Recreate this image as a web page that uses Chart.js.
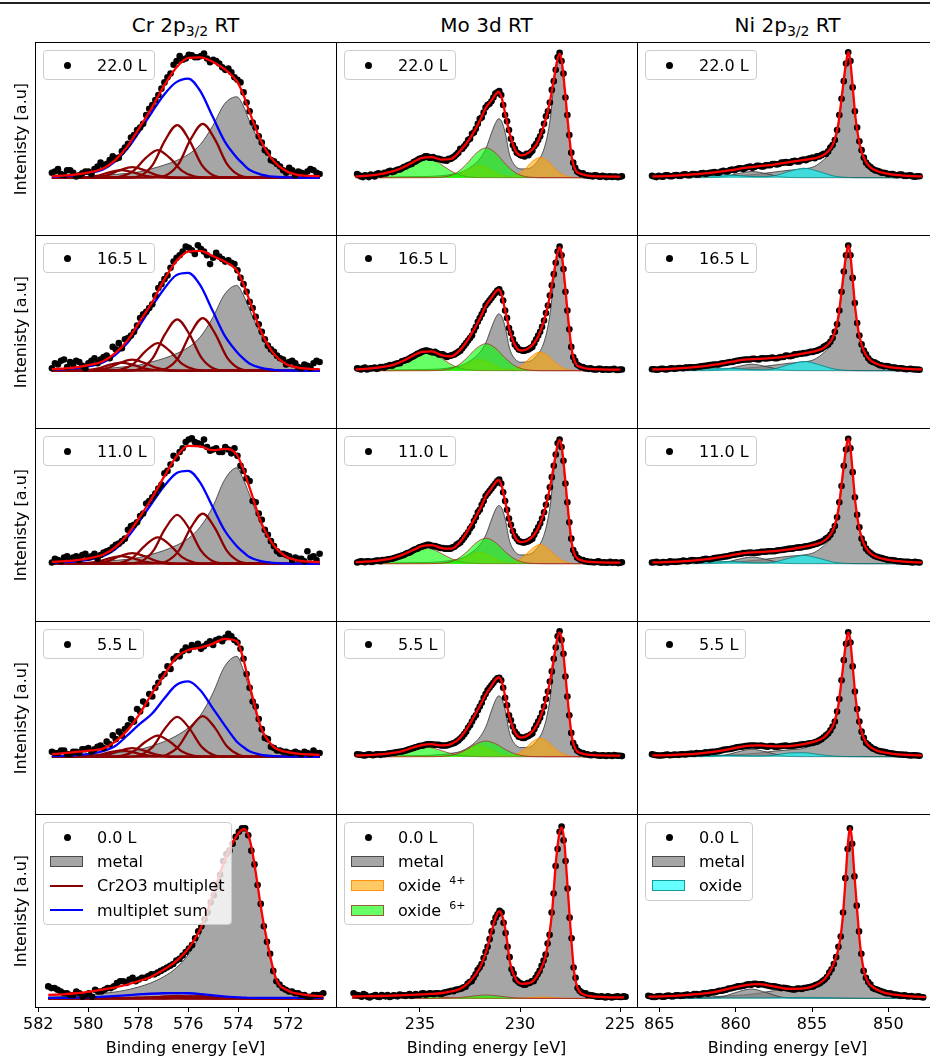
<!doctype html>
<html lang="en">
<head>
<meta charset="utf-8">
<title>XPS RT oxidation: Cr 2p3/2, Mo 3d, Ni 2p3/2</title>
<style>
  * { margin: 0; padding: 0; }
  body { width: 930px; height: 1058px; overflow: hidden; background: white; position: relative; font-family: 'DejaVu Sans', sans-serif; color: black; }
  .topline { position: absolute; left: 0; top: 2px; width: 930px; height: 2px; background: #222; }
  .coltitle { position: absolute; top: 13px; width: 301px; font-size: 20px; line-height: 24px; text-align: center; white-space: nowrap; }
  .coltitle sub { font-size: 14px; vertical-align: -4px; line-height: 0; }
  canvas { position: absolute; }
  .frame { position: absolute; border: 1px solid black; box-sizing: border-box; pointer-events: none; }
  .ylab { position: absolute; left: 20px; font-size: 16px; white-space: nowrap; transform: translate(-50%, -50%) rotate(-90deg); }
  .leg { position: absolute; border: 1px solid #cccccc; border-radius: 4px; background: rgba(255,255,255,0.8); padding: 2px 7px 2px 0; font-size: 16px; }
  .leg .row { height: 24.3px; display: flex; align-items: center; white-space: nowrap; }
  .leg .hnd { width: 53px; height: 100%; position: relative; flex: none; }
  .leg .dot { position: absolute; left: 20px; top: 50%; width: 7px; height: 7px; margin-top: -3.5px; border-radius: 50%; background: black; }
  .leg .patch { position: absolute; left: 6px; top: 50%; width: 33px; height: 11px; margin-top: -5.5px; box-sizing: border-box; border: 1px solid; }
  .leg .ln { position: absolute; left: 6px; top: 50%; width: 33px; height: 2.4px; margin-top: -1.2px; }
  .leg sup { font-size: 11px; vertical-align: 7px; line-height: 0; margin-left: 3px; }
</style>
</head>
<body>
<div class="topline"></div>

<script src="https://cdn.jsdelivr.net/npm/chart.js"></script>
<script>
// ---- data: exposures (rows) ----
const doses = ['22.0 L', '16.5 L', '11.0 L', '5.5 L', '0.0 L'];

// ---- Cr 2p3/2 ----
const crTicks = [582, 580, 578, 576, 574, 572];
const crE = [581.6, 581.35, 581.1, 580.85, 580.6, 580.35, 580.1, 579.85, 579.6, 579.35,
  579.1, 578.85, 578.6, 578.35, 578.1, 577.85, 577.6, 577.35, 577.1, 576.85,
  576.6, 576.35, 576.1, 575.85, 575.6, 575.35, 575.1, 574.85, 574.6, 574.35,
  574.1, 573.85, 573.6, 573.35, 573.1, 572.85, 572.6, 572.35, 572.1, 571.85,
  571.6, 571.35, 571.1, 570.85, 570.6];
const crData = [
  [.04,.07,.02,.06,.01,.035,.05,.07,.12,.11, .17,.16,.24,.32,.38,.43,.55,.62,.71,.80, .90,.97,.95,.975,.96,.99,.92,.93,.88,.87, .80,.76,.60,.44,.33,.22,.14,.11,.06,.08, .02,.04,.05,.06,.03],
  [.02,.05,.09,.07,.08,.04,.06,.1,.09,.12, .19,.22,.25,.28,.36,.45,.50,.60,.69,.76, .87,.92,.99,.96,1.0,.95,.85,.94,.89,.88, .85,.74,.63,.50,.37,.25,.17,.12,.09,.07, .06,.02,.04,.06,.07],
  [.01,.03,.05,.04,.06,.07,.05,.08,.07,.1, .13,.16,.2,.3,.33,.4,.5,.56,.63,.74, .86,.89,.97,1.0,.96,.99,.9,.92,.89,.91, .92,.78,.68,.5,.4,.27,.18,.1,.08,.06, .05,.04,.1,.06,.08],
  [.04,.03,.05,.02,.04,.06,.07,.06,.09,.12, .17,.2,.22,.3,.38,.44,.5,.55,.64,.72, .78,.8,.87,.89,.9,.88,.92,.93,.92,.98, .93,.86,.66,.44,.3,.15,.08,.05,.04,.03, .04,.02,.03,.05,.03],
  [.07,.06,.04,.03,.02,.03,.02,.01,.04,.05, .06,.09,.1,.11,.1,.12,.13,.14,.16,.18, .2,.23,.27,.31,.39,.46,.56,.65,.8,.86, .94,.99,.95,.78,.55,.33,.16,.08,.05,.04, .03,.02,.01,.02,.03]
];
// measured points lying between the ones above
const crE2 = [581.475, 581.225, 580.975, 580.725, 580.475, 580.225, 579.975, 579.725, 579.475, 579.225,
  578.975, 578.725, 578.475, 578.225, 577.975, 577.725, 577.475, 577.225, 576.975, 576.725,
  576.475, 576.225, 575.975, 575.725, 575.475, 575.225, 574.975, 574.725, 574.475, 574.225,
  573.975, 573.725, 573.475, 573.225, 572.975, 572.725, 572.475, 572.225, 571.975, 571.725,
  571.475, 571.225, 570.975, 570.725];
const crData2 = [
  [.05,.03,.06,.04,.02,.05,.03,.09,.1,.14, .15,.21,.27,.34,.4,.5,.58,.66,.76,.83, .93,.94,.98,.96,.97,.95,.94,.91,.86,.84, .78,.68,.53,.4,.28,.2,.13,.09,.04,.06, .05,.03,.07,.04],
  [.06,.08,.03,.05,.07,.02,.08,.06,.11,.1, .17,.18,.26,.31,.42,.47,.53,.66,.73,.82, .9,.95,.98,.93,.97,.92,.9,.91,.87,.86, .8,.69,.55,.43,.31,.2,.15,.1,.05,.08, .03,.05,.02,.08],
  [.04,.02,.06,.05,.03,.08,.06,.04,.09,.11, .15,.18,.27,.31,.38,.48,.53,.6,.72,.79, .84,.92,.99,.97,.95,.93,.91,.89,.93,.88, .86,.74,.66,.49,.35,.23,.14,.08,.07,.03, .04,.02,.05,.03],
  [.03,.05,.02,.04,.03,.06,.04,.08,.07,.1, .14,.17,.25,.28,.36,.42,.48,.59,.66,.7, .8,.84,.85,.88,.86,.9,.89,.94,.95,.96, .91,.78,.55,.4,.22,.14,.07,.05,.04,.03, .03,.04,.02,.03],
  [.06,.05,.03,.02,.04,.01,.03,.05,.04,.06, .07,.1,.09,.12,.11,.12,.14,.15,.17,.19, .22,.25,.29,.35,.42,.5,.6,.72,.84,.9, .97,.99,.86,.66,.42,.26,.1,.06,.04,.03, .02,.01,.02,.02]
];
const crFitE = [581.6, 581, 580.5, 580, 579.5, 579, 578.5, 578, 577.5, 577, 576.5, 576, 575.5, 575, 574.5, 574, 573.75, 573.5, 573, 572.5, 572, 571.5, 571, 570.6];
const crFit = [
  [.012,.018,.028,.045,.073,.14,.25,.40,.555,.73,.875,.955,.96,.925,.865,.77,.67,.535,.29,.135,.055,.023,.014,.012],
  [.012,.018,.03,.048,.075,.14,.24,.39,.54,.72,.87,.95,.955,.915,.87,.80,.70,.57,.31,.14,.055,.025,.015,.012],
  [.015,.02,.03,.047,.072,.13,.23,.37,.52,.69,.85,.94,.935,.905,.915,.87,.76,.62,.33,.15,.06,.027,.016,.013],
  [.02,.03,.04,.05,.065,.12,.21,.34,.5,.646,.79,.85,.87,.90,.94,.92,.79,.59,.23,.08,.04,.025,.018,.015],
  [.02,.024,.03,.038,.05,.062,.078,.1,.125,.165,.215,.29,.41,.61,.82,.96,.986,.9,.45,.12,.045,.025,.016,.013]
];
const crSum = [
  [.008,.013,.022,.038,.065,.13,.23,.37,.52,.66,.76,.79,.69,.49,.29,.16,.11,.065,.025,.008,.003,.001,0,0],
  [.008,.013,.022,.038,.065,.125,.22,.36,.51,.65,.76,.78,.68,.48,.28,.15,.10,.06,.022,.007,.002,.001,0,0],
  [.008,.012,.02,.035,.06,.115,.21,.34,.48,.615,.72,.74,.645,.455,.265,.14,.095,.055,.02,.006,.002,.001,0,0],
  [.005,.008,.014,.025,.045,.085,.17,.26,.34,.46,.57,.6,.53,.39,.25,.12,.08,.045,.015,.005,.002,.001,0,0],
  [.003,.003,.004,.006,.009,.013,.018,.023,.027,.03,.031,.03,.025,.017,.01,.006,.004,.003,.003,.003,.003,.003,.003,.003]
];
const crMetal = [
  [.004,.006,.008,.011,.017,.026,.035,.047,.072,.1,.135,.185,.265,.41,.59,.645,.58,.46,.26,.12,.045,.015,.006,.004],
  [.004,.006,.008,.011,.016,.024,.034,.046,.07,.098,.135,.185,.27,.42,.61,.68,.61,.5,.28,.13,.05,.018,.007,.004],
  [.004,.006,.008,.012,.018,.026,.036,.05,.075,.105,.145,.2,.295,.45,.67,.765,.68,.56,.31,.145,.055,.02,.008,.004],
  [.005,.007,.009,.013,.02,.03,.042,.058,.085,.12,.165,.23,.33,.5,.72,.80,.70,.55,.215,.075,.03,.012,.006,.004],
  [.008,.011,.015,.02,.028,.036,.048,.066,.09,.125,.175,.255,.38,.59,.805,.95,.975,.89,.44,.11,.036,.015,.007,.004]
];
// Cr2O3 multiplet lines, five per panel
const crMultE = [
  [581.6, 577.4, 576.9, 576.4, 575.9, 575.4, 574.9, 574.4, 573.9, 573.4, 570.6],
  [581.6, 578.45, 577.95, 577.45, 576.95, 576.45, 575.95, 575.45, 574.95, 574.45, 570.6],
  [581.6, 579.25, 578.75, 578.25, 577.75, 577.25, 576.75, 576.25, 575.75, 575.25, 570.6],
  [581.6, 580.3, 579.8, 579.3, 578.8, 578.3, 577.8, 577.3, 576.8, 576.3, 570.6],
  [581.6, 580.75, 580.25, 579.75, 579.25, 578.75, 578.25, 577.75, 577.25, 576.75, 570.6]
];
const crMult = [
  [[0,.002,.019,.108,.305,.43,.305,.108,.019,.002,0], [0,.002,.018,.105,.298,.42,.298,.105,.018,.002,0], [0,.001,.01,.055,.156,.22,.156,.055,.01,.001,0], [0,0,.004,.021,.06,.085,.06,.021,.004,0,0], [0,0,.003,.015,.043,.06,.043,.015,.003,0,0]],
  [[0,.002,.018,.105,.298,.42,.298,.105,.018,.002,0], [0,.002,.018,.103,.291,.41,.291,.103,.018,.002,0], [0,.001,.01,.055,.156,.22,.156,.055,.01,.001,0], [0,0,.004,.022,.062,.088,.062,.022,.004,0,0], [0,0,.003,.016,.046,.065,.046,.016,.003,0,0]],
  [[0,.002,.018,.1,.284,.4,.284,.1,.018,.002,0], [0,.002,.017,.098,.277,.39,.277,.098,.017,.002,0], [0,.001,.009,.053,.149,.21,.149,.053,.009,.001,0], [0,0,.004,.021,.06,.085,.06,.021,.004,0,0], [0,0,.003,.015,.043,.06,.043,.015,.003,0,0]],
  [[0,.001,.014,.081,.23,.324,.23,.081,.014,.001,0], [0,.001,.014,.08,.226,.318,.226,.08,.014,.001,0], [0,.001,.007,.042,.119,.168,.119,.042,.007,.001,0], [0,0,.003,.017,.048,.068,.048,.017,.003,0,0], [0,0,.002,.012,.034,.048,.034,.012,.002,0,0]],
  [[0,0,.001,.004,.011,.015,.011,.004,.001,0,0], [0,0,.001,.004,.011,.015,.011,.004,.001,0,0], [0,0,0,.002,.006,.008,.006,.002,0,0,0], [0,0,0,.001,.002,.003,.002,.001,0,0,0], [0,0,0,0,.001,.002,.001,0,0,0,0]]
];

// ---- Mo 3d ----
const moTicks = [235, 230, 225];
const moE = [238.32, 238.12, 237.92, 237.72, 237.52, 237.32, 237.12, 236.92, 236.72, 236.52,
  236.32, 236.12, 235.92, 235.72, 235.52, 235.32, 235.12, 234.92, 234.72, 234.52,
  234.32, 234.12, 233.92, 233.72, 233.52, 233.32, 233.12, 232.92, 232.72, 232.52,
  232.32, 232.12, 231.92, 231.72, 231.52, 231.32, 231.12, 230.92, 230.72, 230.52,
  230.32, 230.12, 229.92, 229.72, 229.52, 229.32, 229.12, 228.92, 228.72, 228.52,
  228.32, 228.12, 227.92, 227.72, 227.52, 227.32, 227.12, 226.92, 226.72, 226.52,
  226.32, 226.12, 225.92, 225.72, 225.52, 225.32, 225.12, 224.92, 224.72];
const moData = [
  [.03,.01,.02,.005,.02,.03,.025,.04,.05,.045, .06,.065,.085,.1,.11,.13,.15,.16,.17,.16, .155,.15,.14,.135,.15,.17,.2,.23,.27,.31, .36,.43,.48,.56,.59,.64,.68,.66,.5,.38, .26,.2,.18,.17,.18,.215,.27,.33,.43,.53, .7,.86,.995,.83,.5,.2,.08,.04,.035,.02, .015,.02,.01,.015,.005,.012,.01,.004,.012],
  [.02,.01,.025,.015,.02,.015,.03,.025,.04,.04, .055,.06,.08,.09,.11,.125,.14,.155,.16,.15, .15,.13,.13,.11,.12,.13,.15,.18,.22,.26, .32,.39,.45,.52,.56,.6,.64,.62,.48,.34, .25,.19,.165,.16,.17,.19,.25,.31,.4,.52, .68,.86,.99,.81,.48,.19,.08,.04,.03,.018, .02,.01,.015,.008,.012,.01,.015,.006,.01],
  [.01,.02,.012,.02,.015,.025,.02,.03,.035,.04, .05,.06,.07,.085,.1,.115,.13,.14,.15,.145, .14,.13,.125,.12,.12,.135,.16,.19,.23,.28, .34,.41,.47,.54,.58,.62,.66,.64,.5,.36, .26,.2,.175,.17,.18,.2,.26,.32,.41,.53, .69,.87,.99,.82,.49,.2,.08,.04,.03,.02, .015,.012,.02,.01,.008,.015,.01,.005,.012],
  [.02,.015,.01,.02,.012,.02,.015,.02,.025,.03, .035,.04,.045,.055,.065,.075,.085,.09,.1,.1, .095,.095,.09,.09,.1,.11,.13,.16,.2,.25, .31,.37,.43,.5,.55,.59,.625,.61,.47,.33, .24,.18,.155,.15,.165,.185,.25,.31,.4,.52, .68,.87,1.0,.82,.48,.19,.08,.04,.03,.02, .012,.018,.01,.012,.006,.01,.014,.008,.005],
  [.03,.02,.01,.02,.005,.015,.01,.02,.012,.008, .018,.012,.02,.015,.025,.018,.02,.028,.022,.03, .025,.03,.026,.035,.04,.042,.052,.058,.068,.095, .12,.165,.2,.27,.345,.44,.49,.5,.38,.24, .145,.1,.085,.08,.09,.1,.14,.19,.255,.37, .61,.87,1.0,.8,.47,.18,.06,.035,.03,.02, .015,.01,.012,.005,.01,.008,.012,.008,.01]
];
const moE2 = [238.22, 238.02, 237.82, 237.62, 237.42, 237.22, 237.02, 236.82, 236.62, 236.42,
  236.22, 236.02, 235.82, 235.62, 235.42, 235.22, 235.02, 234.82, 234.62, 234.42,
  234.22, 234.02, 233.82, 233.62, 233.42, 233.22, 233.02, 232.82, 232.62, 232.42,
  232.22, 232.02, 231.82, 231.62, 231.42, 231.22, 231.02, 230.82, 230.62, 230.42,
  230.22, 230.02, 229.82, 229.62, 229.42, 229.22, 229.02, 228.82, 228.62, 228.42,
  228.22, 228.02, 227.82, 227.62, 227.42, 227.22, 227.02, 226.82, 226.62, 226.42,
  226.22, 226.02, 225.82, 225.62, 225.42, 225.22, 225.02, 224.82];
const moData2 = [
  [.02,.005,.015,.025,.01,.035,.03,.035,.055,.05, .065,.075,.09,.105,.125,.14,.155,.17,.16,.165, .15,.145,.14,.15,.16,.185,.23,.25,.3,.35, .39,.47,.52,.58,.61,.67,.69,.58,.45,.31, .23,.19,.175,.19,.2,.25,.3,.37,.49,.6, .77,.96,.93,.64,.34,.12,.05,.03,.02,.015, .01,.018,.008,.012,.01,.006,.01,.008],
  [.015,.02,.01,.02,.025,.02,.03,.035,.045,.05, .06,.075,.085,.1,.115,.135,.15,.16,.155,.145, .14,.13,.12,.115,.125,.14,.16,.2,.24,.28, .35,.42,.48,.54,.58,.62,.65,.56,.42,.3, .21,.17,.16,.165,.18,.22,.28,.35,.46,.6, .77,.95,.92,.63,.33,.11,.05,.03,.02,.015, .012,.01,.015,.01,.008,.012,.007,.01],
  [.015,.018,.02,.015,.022,.025,.03,.032,.038,.045, .055,.065,.08,.09,.11,.12,.135,.145,.15,.14, .135,.125,.12,.12,.13,.15,.17,.21,.25,.3, .37,.43,.5,.56,.6,.64,.67,.57,.43,.31, .22,.18,.17,.175,.19,.23,.29,.36,.47,.61, .78,.96,.93,.64,.33,.11,.05,.03,.02,.014, .012,.015,.01,.012,.01,.008,.012,.008],
  [.018,.012,.015,.018,.015,.02,.02,.022,.028,.032, .038,.042,.05,.06,.07,.08,.088,.095,.1,.098, .095,.09,.09,.095,.105,.12,.145,.18,.23,.28, .33,.4,.47,.53,.57,.61,.63,.55,.41,.29, .2,.16,.15,.16,.175,.22,.28,.35,.46,.6, .78,.96,.93,.64,.33,.11,.05,.03,.02,.015, .014,.012,.008,.01,.012,.006,.01,.008],
  [.02,.015,.025,.01,.012,.02,.008,.015,.02,.012, .015,.022,.018,.02,.015,.025,.02,.03,.025,.028, .03,.028,.032,.038,.045,.05,.055,.065,.085,.1, .14,.18,.235,.3,.39,.47,.51,.44,.3,.17, .11,.09,.08,.09,.1,.12,.16,.22,.32,.5, .77,.97,.92,.64,.35,.12,.045,.03,.02,.018, .012,.01,.008,.012,.006,.01,.008,.012]
];
const moFitE = [238.4, 237.5, 237, 236.5, 236, 235.5, 235, 234.5, 234, 233.5,
  233, 232.5, 232, 231.7, 231.4, 231.2, 231.05, 230.9, 230.7, 230.5,
  230.2, 229.9, 229.5, 229.1, 228.7, 228.4, 228.2, 228.05, 227.92, 227.8,
  227.65, 227.5, 227.3, 227.1, 226.8, 226.4, 225.8, 224.8];
const moFit = [
  [.01,.02,.033,.05,.08,.12,.158,.165,.145,.15, .22,.32,.46,.56,.62,.665,.687,.64,.50,.36, .22,.178,.2,.27,.43,.62,.8,.93,.99,.92, .70,.45,.17,.06,.03,.015,.01,.008],
  [.01,.02,.03,.045,.075,.115,.15,.155,.125,.115, .17,.28,.42,.52,.585,.63,.649,.605,.47,.33, .2,.16,.18,.25,.41,.61,.79,.925,.985,.915, .70,.45,.17,.06,.028,.014,.01,.008],
  [.012,.02,.03,.045,.07,.105,.14,.148,.125,.12, .18,.3,.44,.54,.605,.65,.669,.625,.485,.345, .21,.172,.19,.26,.42,.62,.8,.93,.988,.92, .70,.45,.17,.06,.028,.014,.01,.008],
  [.01,.015,.02,.03,.045,.07,.092,.1,.09,.1, .155,.27,.41,.5,.57,.615,.632,.6,.47,.32, .19,.153,.175,.25,.41,.61,.8,.935,.992,.925, .70,.45,.17,.06,.028,.014,.01,.008],
  [.012,.013,.014,.016,.018,.02,.023,.026,.03,.04, .055,.1,.18,.27,.4,.475,.506,.485,.38,.21, .11,.085,.09,.14,.26,.5,.8,.95,.996,.93, .70,.45,.16,.055,.022,.012,.008,.006]
];
const moMetal = [
  [.004,.005,.005,.006,.007,.008,.009,.011,.016,.026, .042,.083,.155,.235,.365,.44,.47,.45,.35,.19, .095,.07,.074,.122,.24,.47,.76,.9,.95,.885, .66,.42,.15,.05,.012,.004,.001,0],
  [.004,.005,.005,.006,.007,.008,.009,.011,.015,.025, .04,.08,.15,.227,.352,.425,.453,.435,.338,.183, .092,.068,.073,.12,.238,.465,.755,.895,.945,.88, .66,.42,.15,.05,.012,.004,.001,0],
  [.004,.005,.005,.006,.007,.008,.009,.011,.016,.026, .041,.082,.153,.232,.36,.435,.464,.445,.346,.187, .094,.07,.074,.121,.24,.468,.758,.898,.948,.883, .66,.42,.15,.05,.012,.004,.001,0],
  [.004,.005,.005,.006,.007,.008,.009,.012,.017,.027, .043,.085,.16,.243,.376,.455,.485,.465,.362,.195, .098,.073,.076,.125,.244,.476,.765,.91,.955,.892, .665,.425,.15,.05,.012,.004,.001,0],
  [.005,.005,.006,.007,.008,.009,.01,.012,.018,.028, .045,.088,.165,.25,.385,.465,.497,.477,.372,.2, .1,.075,.078,.128,.25,.49,.79,.94,.986,.92, .69,.44,.15,.045,.013,.004,.001,0]
];
const moOxE = [238.4, 233.6, 233.1, 232.6, 232.05, 231.5, 231.0, 230.5, 230.1, 229.72, 229.32, 228.92, 228.52, 228.12, 227.72, 227.32, 226.92, 226.5, 224.8];
const moOx4 = [
  [0,.006,.027,.07,.1,.07,.027,.011,.024,.066,.13,.162,.13,.066,.022,.005,.001,0,0],
  [0,.005,.024,.063,.09,.063,.024,.01,.022,.061,.119,.149,.119,.061,.02,.004,.001,0,0],
  [0,.005,.025,.064,.092,.064,.025,.01,.023,.063,.122,.153,.122,.063,.021,.004,.001,0,0],
  [0,.005,.024,.063,.09,.063,.024,.01,.022,.061,.118,.148,.118,.061,.02,.004,.001,0,0],
  [0,0,.001,.004,.005,.004,.001,0,.001,.003,.006,.008,.006,.003,.001,0,0,0,0]
];
const moG1E = [238.4, 234.7, 234.2, 233.7, 233.2, 232.7, 232.2, 231.7, 231.2, 230.7, 230.2, 229.7, 229.2, 228.7, 224.8];
const moOx6a = [
  [0,0,.002,.01,.041,.109,.196,.238,.196,.109,.041,.01,.002,0,0],
  [0,0,.002,.01,.037,.099,.178,.216,.178,.099,.037,.01,.002,0,0],
  [0,0,.002,.009,.035,.093,.168,.204,.168,.093,.035,.009,.002,0,0],
  [0,0,.001,.006,.022,.057,.103,.125,.103,.057,.022,.006,.001,0,0],
  [0,0,0,.001,.003,.009,.016,.02,.016,.009,.003,.001,0,0,0]
];
const moG2E = [238.4, 237.85, 237.35, 236.85, 236.35, 235.85, 235.35, 234.85, 234.35, 233.85, 233.35, 232.85, 232.35, 231.85, 224.8];
const moOx6b = [
  [0,.001,.003,.014,.041,.089,.141,.165,.141,.089,.041,.014,.003,.001,0],
  [0,.001,.003,.013,.039,.084,.133,.155,.133,.084,.039,.013,.003,.001,0],
  [0,.001,.003,.011,.032,.069,.11,.128,.11,.069,.032,.011,.003,.001,0],
  [0,0,.002,.007,.019,.042,.066,.077,.066,.042,.019,.007,.002,0,0],
  [0,0,0,.001,.003,.007,.011,.013,.011,.007,.003,.001,0,0,0]
];

// ---- Ni 2p3/2 ----
const niTicks = [865, 860, 855, 850];
const niE = [865.72, 865.42, 865.12, 864.82, 864.52, 864.22, 863.92, 863.62, 863.32, 863.02,
  862.72, 862.42, 862.12, 861.82, 861.52, 861.22, 860.92, 860.62, 860.32, 860.02,
  859.72, 859.42, 859.12, 858.82, 858.52, 858.22, 857.92, 857.62, 857.32, 857.02,
  856.72, 856.42, 856.12, 855.82, 855.52, 855.22, 854.92, 854.62, 854.32, 854.02,
  853.72, 853.42, 853.12, 852.82, 852.52, 852.22, 851.92, 851.62, 851.32, 851.02,
  850.72, 850.42, 850.12, 849.82, 849.52, 849.22, 848.92, 848.62, 848.32, 848.02, 847.72];
const niData = [
  [.015,.005,.01,.02,.012,.02,.015,.025,.02,.03, .025,.035,.03,.04,.045,.04,.055,.05,.065,.07, .075,.08,.09,.085,.095,.09,.1,.11,.105,.12, .125,.12,.135,.13,.145,.15,.16,.17,.18,.19, .24,.3,.5,.77,1.0,.72,.4,.22,.12,.085, .06,.05,.04,.028,.03,.02,.025,.015,.02,.008,.012],
  [.012,.008,.015,.01,.018,.015,.022,.02,.025,.028, .03,.035,.04,.045,.05,.05,.06,.065,.07,.08, .085,.09,.09,.095,.09,.1,.1,.105,.1,.11, .12,.115,.13,.135,.14,.145,.15,.16,.175,.2, .23,.31,.48,.79,.998,.74,.38,.21,.13,.08, .065,.045,.035,.035,.025,.018,.02,.012,.015,.01,.008],
  [.01,.015,.008,.012,.02,.015,.018,.025,.02,.03, .025,.03,.04,.035,.045,.05,.055,.06,.07,.075, .08,.085,.09,.085,.09,.095,.1,.1,.105,.11, .115,.12,.125,.13,.135,.14,.15,.16,.175,.2, .23,.3,.49,.78,.996,.73,.39,.2,.12,.085, .06,.05,.04,.03,.028,.02,.018,.015,.012,.015,.01],
  [.02,.012,.01,.015,.012,.018,.015,.02,.022,.025, .03,.028,.035,.038,.04,.045,.055,.06,.065,.075, .08,.085,.09,.09,.088,.085,.08,.085,.08,.085, .09,.085,.09,.095,.1,.105,.11,.12,.14,.17, .21,.28,.46,.77,.992,.72,.38,.2,.11,.08, .06,.045,.04,.03,.025,.02,.018,.015,.01,.012,.008],
  [.015,.008,.012,.01,.015,.012,.018,.015,.02,.018, .025,.022,.03,.028,.035,.04,.045,.05,.058,.065, .07,.075,.082,.085,.08,.082,.075,.07,.068,.06, .06,.055,.052,.058,.06,.065,.07,.082,.1,.125, .17,.24,.36,.7,.99,.71,.39,.16,.095,.06, .05,.04,.03,.028,.022,.015,.018,.012,.01,.012,.006]
];
const niE2 = [865.57, 865.27, 864.97, 864.67, 864.37, 864.07, 863.77, 863.47, 863.17, 862.87,
  862.57, 862.27, 861.97, 861.67, 861.37, 861.07, 860.77, 860.47, 860.17, 859.87,
  859.57, 859.27, 858.97, 858.67, 858.37, 858.07, 857.77, 857.47, 857.17, 856.87,
  856.57, 856.27, 855.97, 855.67, 855.37, 855.07, 854.77, 854.47, 854.17, 853.87,
  853.57, 853.27, 852.97, 852.67, 852.37, 852.07, 851.77, 851.47, 851.17, 850.87,
  850.57, 850.27, 849.97, 849.67, 849.37, 849.07, 848.77, 848.47, 848.17, 847.87];
const niData2 = [
  [.01,.015,.008,.02,.012,.022,.015,.028,.02,.03, .025,.038,.035,.042,.04,.05,.05,.062,.06,.075, .07,.085,.08,.095,.09,.1,.1,.11,.11,.12, .12,.13,.13,.14,.14,.155,.155,.17,.19,.21, .26,.38,.63,.91,.93,.53,.29,.16,.1,.07, .055,.04,.035,.03,.022,.025,.015,.018,.01,.012],
  [.012,.01,.015,.012,.02,.018,.022,.025,.028,.025, .032,.038,.042,.048,.05,.058,.062,.07,.075,.082, .088,.09,.095,.092,.1,.098,.102,.1,.105,.11, .118,.12,.13,.135,.14,.15,.155,.168,.19,.21, .26,.37,.63,.92,.92,.54,.28,.16,.1,.07, .055,.042,.038,.028,.025,.02,.015,.014,.012,.01],
  [.012,.01,.014,.01,.016,.015,.02,.022,.025,.028, .028,.035,.038,.04,.048,.052,.058,.065,.072,.078, .085,.088,.088,.09,.095,.095,.1,.1,.108,.112, .118,.12,.128,.13,.138,.145,.155,.168,.185,.21, .26,.37,.62,.91,.92,.53,.29,.16,.1,.072, .055,.045,.035,.03,.025,.02,.016,.015,.01,.012],
  [.015,.01,.012,.018,.014,.016,.02,.018,.024,.022, .028,.03,.032,.04,.042,.05,.058,.062,.07,.078, .082,.088,.09,.088,.09,.082,.085,.08,.082,.088, .085,.088,.092,.098,.1,.108,.115,.13,.155,.185, .24,.36,.61,.9,.91,.52,.28,.15,.095,.065, .05,.042,.035,.028,.022,.018,.016,.012,.012,.01],
  [.012,.008,.014,.01,.016,.012,.018,.016,.022,.02, .026,.024,.03,.034,.036,.045,.048,.058,.062,.07, .072,.08,.08,.085,.082,.078,.072,.07,.065,.062, .058,.052,.058,.055,.062,.068,.078,.09,.11,.15, .2,.3,.5,.87,.9,.54,.26,.12,.08,.055, .045,.035,.03,.022,.02,.016,.012,.014,.01,.008]
];
const niFitE = [865.7, 864.5, 863.5, 862.5, 861.5, 860.5, 859.5, 858.5, 857.5, 856.5,
  855.5, 854.8, 854.2, 853.8, 853.5, 853.2, 853.0, 852.8, 852.65, 852.52,
  852.4, 852.25, 852.05, 851.85, 851.6, 851.3, 851.0, 850.5, 850, 849.5, 848.5, 847.55];
const niFit = [
  [.01,.015,.022,.03,.042,.058,.078,.092,.105,.125, .142,.155,.18,.22,.28,.42,.6,.8,.93,1.0, .95,.77,.5,.33,.2,.12,.08,.05,.035,.025, .015,.01],
  [.01,.015,.022,.032,.048,.068,.088,.095,.102,.118, .138,.155,.18,.22,.28,.42,.6,.8,.93,.998, .95,.77,.5,.33,.2,.12,.08,.05,.035,.025, .015,.01],
  [.01,.014,.02,.03,.045,.065,.085,.092,.1,.115, .135,.152,.178,.22,.28,.42,.6,.8,.93,.996, .95,.77,.5,.33,.2,.12,.08,.05,.035,.025, .015,.01],
  [.01,.013,.018,.027,.04,.06,.085,.09,.083,.085, .1,.12,.15,.2,.26,.4,.58,.79,.925,.992, .945,.765,.5,.32,.19,.11,.075,.045,.032,.022, .014,.01],
  [.01,.013,.018,.025,.035,.055,.075,.083,.07,.055, .058,.075,.11,.16,.22,.32,.46,.7,.9,.992, .94,.75,.52,.31,.16,.09,.065,.04,.028,.02, .012,.008]
];
const niMetal = [
  [.002,.003,.005,.007,.01,.014,.02,.03,.045,.06, .07,.09,.14,.19,.26,.39,.57,.77,.91,.98, .935,.755,.49,.32,.19,.11,.07,.04,.025,.016, .008,.004],
  [.002,.003,.005,.007,.01,.014,.02,.03,.045,.06, .07,.09,.14,.19,.26,.39,.57,.77,.91,.98, .935,.755,.49,.32,.19,.11,.07,.04,.025,.016, .008,.004],
  [.002,.003,.005,.007,.01,.014,.02,.03,.045,.06, .07,.09,.14,.19,.26,.39,.57,.77,.91,.98, .935,.755,.49,.32,.19,.11,.07,.04,.025,.016, .008,.004],
  [.002,.003,.005,.007,.01,.014,.02,.03,.045,.055, .068,.1,.14,.19,.25,.38,.56,.77,.905,.975, .93,.75,.49,.315,.185,.105,.068,.038,.024,.015, .008,.004],
  [.002,.003,.005,.007,.01,.014,.02,.03,.045,.05, .052,.068,.1,.15,.21,.305,.445,.69,.89,.985, .935,.745,.515,.305,.155,.085,.058,.033,.02,.013, .006,.003]
];
const niSatE = [865.7, 862, 861, 860, 859, 858, 857, 856, 847.55];
const niSat = [
  [0,.001,.007,.031,.05,.031,.007,.001,0],
  [0,.001,.007,.032,.052,.032,.007,.001,0],
  [0,.001,.007,.033,.054,.033,.007,.001,0],
  [0,.001,.008,.037,.06,.037,.008,.001,0],
  [0,.001,.007,.034,.055,.034,.007,.001,0]
];
const niOxE = [865.7, 863.5, 862.5, 861.5, 860.5, 859.5, 858.5, 857.5, 856.5, 855.5, 854.5, 853.5, 852.5, 851.5, 847.55];
const niOx = [
  [0,.005,.013,.021,.021,.013,.008,.016,.05,.076,.05,.014,.002,0,0],
  [0,.005,.012,.019,.019,.012,.007,.015,.049,.074,.049,.014,.002,0,0],
  [0,.004,.011,.017,.017,.011,.006,.013,.044,.066,.044,.012,.002,0,0],
  [0,.002,.006,.01,.01,.007,.006,.012,.03,.032,.018,.005,.001,0,0],
  [0,.001,.002,.003,.003,.003,.003,.004,.005,.006,.005,.003,.001,0,0]
];

// ---- layout ----
const colX = [35, 336, 637], colW = 301;
const rowY = [42, 235, 428, 621, 814], rowH = 193;
const xRange = [[570.09, 582.13], [224.15, 239.2], [846.75, 866.46]];
const colTicks = [crTicks, moTicks, niTicks];
const colTitles = ['Cr 2p<sub>3/2</sub> RT', 'Mo 3d RT', 'Ni 2p<sub>3/2</sub> RT'];

const RED = '#ff0000', BLUE = '#0000ff', MAROON = '#8b0000';
const METAL = ['rgba(128,128,128,0.7)', 'rgba(50,50,50,0.8)'];
const OX4 = ['rgba(255,165,0,0.6)', 'rgba(255,140,0,0.9)'];
const OX6 = ['rgba(0,255,0,0.6)', 'rgba(165,42,42,0.75)'];
const NIOX = ['rgba(0,255,255,0.6)', 'rgba(0,128,128,0.8)'];

Chart.defaults.font.family = "'DejaVu Sans', sans-serif";
Chart.defaults.color = 'black';

const pts = (xs, ys) => xs.map((x, i) => ({x: x, y: ys[i]}));
const line = (xs, ys, color, order) => ({data: pts(xs, ys), borderColor: color, borderWidth: 2.3, pointRadius: 0, fill: false, cubicInterpolationMode: 'monotone', order: order});
const area = (xs, ys, col, order) => ({data: pts(xs, ys), borderColor: col[1], borderWidth: 1, backgroundColor: col[0], pointRadius: 0, fill: 'origin', cubicInterpolationMode: 'monotone', order: order});
const dots = (xs, ys) => ({data: pts(xs, ys), showLine: false, pointRadius: 3.3, pointBackgroundColor: 'black', pointBorderColor: 'black', pointBorderWidth: 0, order: 1});

function panelSets(r, c) {
  if (c === 0) {
    const sets = [line(crFitE, crFit[r], RED, 0), dots(crE, crData[r]), dots(crE2, crData2[r]), line(crFitE, crSum[r], BLUE, 2)];
    for (let k = 0; k < 5; k++) sets.push(line(crMultE[k], crMult[r][k], MAROON, 3));
    sets.push(area(crFitE, crMetal[r], METAL, 6));
    return sets;
  }
  if (c === 1) {
    return [line(moFitE, moFit[r], RED, 0), dots(moE, moData[r]), dots(moE2, moData2[r]),
      area(moG1E, moOx6a[r], OX6, 4), area(moG2E, moOx6b[r], OX6, 4),
      area(moOxE, moOx4[r], OX4, 5), area(moFitE, moMetal[r], METAL, 6)];
  }
  return [line(niFitE, niFit[r], RED, 0), dots(niE, niData[r]), dots(niE2, niData2[r]),
    area(niOxE, niOx[r], NIOX, 4), area(niSatE, niSat[r], METAL, 5), area(niFitE, niMetal[r], METAL, 6)];
}

function makePanel(r, c) {
  const bottom = r === 4;
  const pad = bottom ? 20 : 0;
  const w = colW + 2 * pad, h = rowH + (bottom ? 51 : 0);
  const cv = document.createElement('canvas');
  cv.width = w; cv.height = h;
  cv.style.left = (colX[c] - pad) + 'px';
  cv.style.top = rowY[r] + 'px';
  cv.style.width = w + 'px';
  cv.style.height = h + 'px';
  document.body.appendChild(cv);
  new Chart(cv, {
    type: 'line',
    data: {datasets: panelSets(r, c)},
    options: {
      animation: false, responsive: false, devicePixelRatio: 1, events: [],
      layout: {padding: {left: pad, right: pad, top: 0, bottom: 0}},
      plugins: {legend: {display: false}, tooltip: {enabled: false}},
      scales: {
        x: {
          type: 'linear', reverse: true, min: xRange[c][0], max: xRange[c][1], display: bottom,
          afterFit: s => { s.height = 51; s.paddingLeft = 0; s.paddingRight = 0; },
          afterBuildTicks: s => { s.ticks = colTicks[c].map(v => ({value: v})); },
          grid: {drawOnChartArea: false, drawTicks: true, tickLength: 5, color: 'black', lineWidth: 1},
          border: {display: false},
          ticks: {color: 'black', font: {size: 16}, padding: 3.5, maxRotation: 0, autoSkip: false},
          title: {display: true, text: 'Binding energy [eV]', color: 'black', font: {size: 16}, padding: {top: 0, bottom: 0}}
        },
        y: {display: false, min: -0.05, max: 1.05}
      }
    }
  });
}

function addDiv(cls, html, css) {
  const d = document.createElement('div');
  d.className = cls;
  d.innerHTML = html;
  Object.assign(d.style, css);
  document.body.appendChild(d);
  return d;
}

function handle(kind, col) {
  if (kind === 'dot') return '<span class="dot"></span>';
  if (kind === 'line') return '<span class="ln" style="background:' + col + '"></span>';
  return '<span class="patch" style="background:' + col[0] + ';border-color:' + col[1] + '"></span>';
}

function addLegend(r, c, entries) {
  const html = entries.map(e => '<div class="row"><span class="hnd">' + handle(e[0], e[1]) + '</span><span>' + e[2] + '</span></div>').join('');
  addDiv('leg', html, {left: (colX[c] + 8) + 'px', top: (rowY[r] + 8) + 'px'});
}

for (let r = 0; r < 5; r++) {
  for (let c = 0; c < 3; c++) makePanel(r, c);
}
for (let r = 0; r < 5; r++) {
  for (let c = 0; c < 3; c++) {
    addDiv('frame', '', {left: colX[c] + 'px', top: rowY[r] + 'px', width: (colW + 1) + 'px', height: (rowH + 1) + 'px'});
  }
  addDiv('ylab', 'Intenisty [a.u]', {top: (rowY[r] + rowH / 2) + 'px'});
}
for (let c = 0; c < 3; c++) {
  addDiv('coltitle', colTitles[c], {left: colX[c] + 'px'});
}
for (let r = 0; r < 4; r++) {
  for (let c = 0; c < 3; c++) addLegend(r, c, [['dot', null, doses[r]]]);
}
addLegend(4, 0, [['dot', null, doses[4]], ['patch', METAL, 'metal'], ['line', MAROON, 'Cr2O3 multiplet'], ['line', BLUE, 'multiplet sum']]);
addLegend(4, 1, [['dot', null, doses[4]], ['patch', METAL, 'metal'], ['patch', OX4, 'oxide <sup>4+</sup>'], ['patch', OX6, 'oxide <sup>6+</sup>']]);
addLegend(4, 2, [['dot', null, doses[4]], ['patch', METAL, 'metal'], ['patch', NIOX, 'oxide']]);
</script>
</body>
</html>
